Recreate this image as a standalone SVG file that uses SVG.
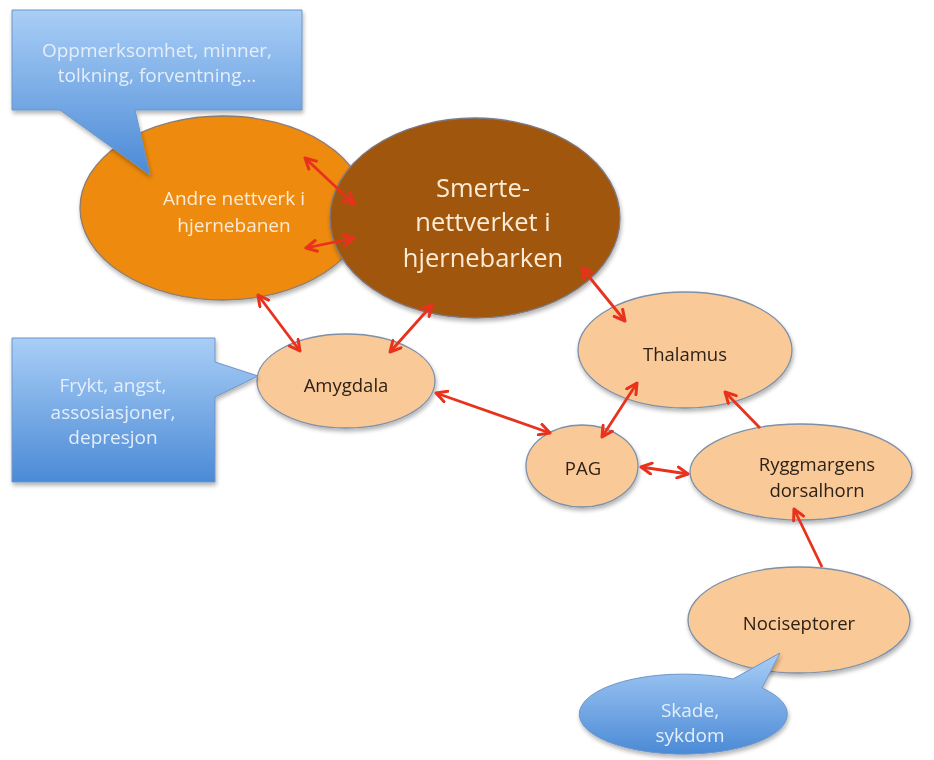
<svg xmlns="http://www.w3.org/2000/svg" width="934" height="760" viewBox="0 0 934 760">
<defs>
<linearGradient id="blueG" x1="0" y1="0" x2="0" y2="1">
<stop offset="0" stop-color="#A9CEF6"/>
<stop offset="1" stop-color="#4B8AD6"/>
</linearGradient>
<filter id="sh" x="-10%" y="-10%" width="130%" height="130%">
<feGaussianBlur in="SourceAlpha" stdDeviation="2"/>
<feOffset dx="1" dy="3" result="b"/>
<feComponentTransfer><feFuncA type="linear" slope="0.3"/></feComponentTransfer>
<feMerge><feMergeNode/><feMergeNode in="SourceGraphic"/></feMerge>
</filter>
<marker id="ah" viewBox="0 0 14 14" refX="12" refY="7" markerWidth="14" markerHeight="14" markerUnits="userSpaceOnUse" orient="auto-start-reverse">
<path d="M1.5,1.5 L12,7 L1.5,12.5" fill="none" stroke="#E8321E" stroke-width="3" stroke-linecap="round" stroke-linejoin="round"/>
</marker>
</defs>
<style>
.peach{fill:#F9C998;stroke:#7E8FA8;stroke-width:1.3}
.call{fill:url(#blueG);stroke:#6C95C8;stroke-width:1}
.ct{font-family:"Open Sans","Liberation Sans",sans-serif;fill:#E4EEFA;text-anchor:middle}
.nt{font-family:"Open Sans","Liberation Sans",sans-serif;fill:#2E2116;text-anchor:middle;font-size:18.5px}
.wt{font-family:"Open Sans","Liberation Sans",sans-serif;fill:#FBEBD6;text-anchor:middle}
.ar{stroke:#E8321E;stroke-width:2.8;fill:none;marker-start:url(#ah);marker-end:url(#ah)}
.ar1{stroke:#E8321E;stroke-width:2.8;fill:none;marker-end:url(#ah)}
</style>

<g id="andre" filter="url(#sh)">
<ellipse cx="223" cy="208" rx="143" ry="92" fill="#EE8A0E" stroke="#8B7D78" stroke-width="1.3"/>
<text class="wt" font-size="19" x="234" y="205">Andre nettverk i</text>
<text class="wt" font-size="19" x="234" y="232">hjernebanen</text>
</g>

<g id="smerte" filter="url(#sh)">
<ellipse cx="475" cy="218" rx="145" ry="100" fill="#A0570B" stroke="#7C7A86" stroke-width="1.3"/>
<text class="wt" font-size="25.5" x="483" y="197">Smerte-</text>
<text class="wt" font-size="25.5" x="483" y="231">nettverket i</text>
<text class="wt" font-size="25.5" x="483" y="267">hjernebarken</text>
</g>

<g id="callout-top" filter="url(#sh)">
<path class="call" d="M12,10 H302 V110 H135 L150,175 L60,110 H12 Z"/>
<text class="ct" font-size="19" x="157" y="57">Oppmerksomhet, minner,</text>
<text class="ct" font-size="19" x="157" y="82">tolkning, forventning…</text>
</g>

<g id="amygdala" filter="url(#sh)">
<ellipse class="peach" cx="346" cy="381" rx="89" ry="47"/>
<text class="nt" x="346" y="392">Amygdala</text>
</g>

<g id="callout-left" filter="url(#sh)">
<path class="call" d="M12,338 H215 V362 L258,376 L215,397 V482 H12 Z"/>
<text class="ct" font-size="19" x="113" y="392">Frykt, angst,</text>
<text class="ct" font-size="19" x="113" y="419">assosiasjoner,</text>
<text class="ct" font-size="19" x="113" y="444">depresjon</text>
</g>

<g id="thalamus" filter="url(#sh)">
<ellipse class="peach" cx="685" cy="350" rx="107" ry="58"/>
<text class="nt" x="685" y="361">Thalamus</text>
</g>

<g id="pag" filter="url(#sh)">
<ellipse class="peach" cx="582" cy="466" rx="56" ry="41"/>
<text class="nt" x="583" y="475">PAG</text>
</g>

<g id="ryggmargens" filter="url(#sh)">
<ellipse class="peach" cx="801" cy="472" rx="111" ry="48"/>
<text class="nt" x="817" y="471">Ryggmargens</text>
<text class="nt" x="817" y="497">dorsalhorn</text>
</g>

<g id="nociseptorer" filter="url(#sh)">
<ellipse class="peach" cx="799" cy="620" rx="111" ry="53"/>
<text class="nt" x="799" y="630">Nociseptorer</text>
</g>

<g id="callout-skade" filter="url(#sh)">
<path class="call" d="M733,679 L780,653 L762,688 A104,40 0 1 1 733,679 Z"/>
<text class="ct" font-size="19" x="690" y="717">Skade,</text>
<text class="ct" font-size="19" x="690" y="742">sykdom</text>
</g>

<g id="connectors">
<line class="ar" x1="305" y1="158" x2="354" y2="204"/>
<line class="ar" x1="306" y1="248" x2="354" y2="238"/>
<line class="ar" x1="258" y1="295" x2="300" y2="351"/>
<line class="ar" x1="432" y1="305" x2="390" y2="352"/>
<line class="ar" x1="582" y1="268" x2="625" y2="321"/>
<line class="ar" x1="436" y1="393" x2="550" y2="433"/>
<line class="ar" x1="637" y1="383" x2="602" y2="437"/>
<line class="ar" x1="641" y1="467" x2="688" y2="474"/>
<line class="ar1" x1="760" y1="428" x2="725" y2="392"/>
<line class="ar1" x1="822" y1="567" x2="794" y2="509"/>
</g>
</svg>
